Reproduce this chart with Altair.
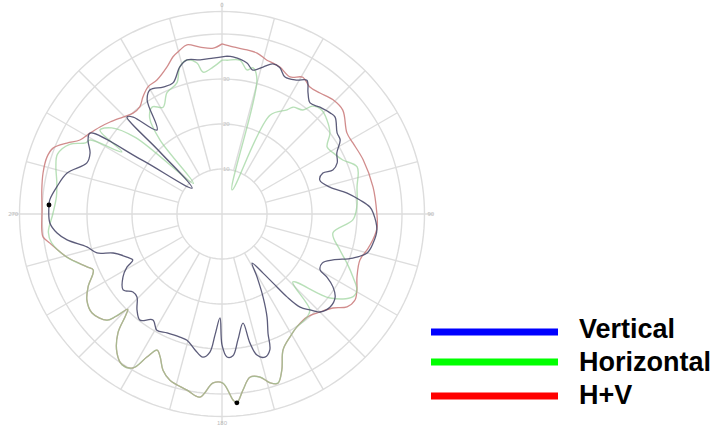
import altair as alt
import pandas as pd

# Radiation pattern traces: angle in degrees clockwise from the top,
# radius in grid units (outer ring = 45).
SERIES = ["Vertical", "Horizontal", "H+V"]
LEGEND_COLORS = ["#0000ff", "#00ff00", "#ff0000"]
TRACE_COLORS = ["#4a4a6c", "#92d092", "#cc8080"]

VERT_ANGLE = [1.8, 4, 9.4, 12.1, 15.6, 18.7, 21.5, 24.7, 29.2, 32.4, 35.4, 38.4, 42.5, 46.9, 49.4,
              54.8, 57.9, 62, 66.1, 68.4, 67.9, 70.9, 76, 80.5, 84.2, 87.3, 89.6, 95.9, 100.9, 105,
              108.6, 112.5, 116.1, 119.7, 121, 123.3, 126.3, 130.7, 135, 137.5, 140, 141.9, 143.5, 145.2, 148.5,
              150.9, 153.7, 156.4, 158.9, 160.6, 163.3, 166.1, 167.8, 169.1, 172.8, 175.6, 178, 180, 181.1, 183.3,
              185, 187.6, 191.2, 195.5, 198.9, 204.8, 209.3, 213.1, 217.7, 221.5, 225.7, 228.8, 232.5, 237.5, 240.8,
              242.7, 245.6, 250.3, 252.7, 256.3, 260.5, 263.4, 267, 273, 274.7, 279.3, 284.8, 290.7, 294.8, 298.9,
              301.5, 304, 311, 315, 315.6, 317.5, 322.3, 326.7, 329.9, 335.1, 339.5, 344, 347.2, 351.9, 356.7]
VERT_R = [35.1, 35.0, 34.0, 32.7, 33.9, 35.2, 35.0, 33.5, 34.1, 35.2, 33.0, 31.5, 32.2, 32.9, 33.1,
          31.3, 31.0, 28.9, 28.0, 26.5, 24.2, 23.0, 24.7, 28.2, 30.8, 32.9, 33.6, 34.6, 34.2, 33.4,
          30.7, 26.7, 24.8, 25.1, 27.2, 29.5, 31.2, 31.7, 30.8, 28.9, 27.0, 23.4, 19.1, 16.0, 12.8,
          16.0, 20.6, 25.0, 28.4, 32.0, 33.2, 32.3, 29.3, 24.7, 28.2, 31.6, 31.8, 29.1, 23.1, 26.9,
          30.8, 32.1, 30.8, 29.1, 28.9, 29.1, 29.6, 28.1, 29.8, 28.5, 26.4, 26.3, 27.7, 26.1, 24.2,
          22.3, 23.2, 25.7, 29.1, 30.9, 34.9, 36.9, 38.3, 38.5, 38.4, 37.2, 35.6, 32.1, 32.3, 34.0,
          34.4, 21.4, 8.8, 19.5, 30.2, 29.2, 23.6, 30.3, 31.9, 31.1, 31.1, 34.0, 35.1, 34.6, 34.7]

HORZ_ANGLE = [0, 1.9, 6.7, 9.8, 12, 14.6, 22.6, 25.9, 32, 33.6, 37.9, 40, 44, 48.2, 53.1,
              57.5, 61.2, 65.9, 70.8, 78.7, 87, 92.6, 99.7, 107, 111.4, 115.7, 119.4, 122.4, 127.9, 133.8,
              137.5, 140.5, 146.4, 151, 155.8, 159, 161.7, 164.1, 166.9, 170.3, 173.2, 175.5, 176.6, 179.7, 183,
              186.9, 191.2, 197.4, 200.7, 203.4, 205.5, 207.7, 210, 213.5, 217.1, 221.2, 223.5, 224.7, 226, 227.3,
              232.7, 237.5, 241.4, 246.5, 248.6, 254.5, 260.4, 264, 270, 276, 281, 286, 290, 294.6, 297.5,
              299.3, 301.8, 304.5, 308, 311.5, 317, 320, 323, 327, 331.1, 335.6, 341, 344, 347.2, 350.6,
              352.4, 356.5]
HORZ_R = [34.2, 34.2, 34.4, 32.5, 33.2, 30.8, 5.8, 24.4, 27.3, 28.5, 29.3, 31.3, 32.0, 31.3, 30.0,
          27.7, 28.2, 29.4, 31.8, 30.6, 30.0, 29.1, 25.0, 27.4, 29.8, 32.3, 34.4, 34.4, 30.4, 21.8,
          28.9, 29.7, 30.1, 31.2, 33.1, 37.1, 39.6, 39.0, 37.2, 36.8, 39.4, 42.1, 41.4, 37.6, 37.6,
          41.0, 39.9, 38.7, 37.1, 34.6, 33.5, 35.9, 39.5, 40.2, 38.7, 35.1, 31.1, 29.8, 32.7, 34.8,
          36.3, 35.6, 33.9, 31.2, 32.2, 35.8, 38.4, 38.8, 37.6, 37.0, 37.4, 38.4, 38.9, 37.2, 34.2,
          33.6, 26.2, 32.9, 31.1, 25.6, 9.3, 21.4, 26.7, 28.4, 27.1, 29.6, 30.8, 34.0, 35.1, 34.0,
          31.8, 32.7]

HV_ANGLE = [0, 3.8, 8.7, 12.3, 16.3, 18.7, 21.5, 26.4, 30.6, 34.7, 39, 44.2, 49.3, 57, 61.5,
            69, 79.9, 89.6, 94.8, 99.8, 103.9, 108.4, 115, 119.4, 122.9, 126.6, 130.3, 135, 140.5, 146.4,
            151, 155.8, 159, 161.7, 164.1, 166.9, 170.3, 173.2, 175.5, 176.6, 179.7, 183, 186.9, 191.2, 197.4,
            200.7, 203.4, 205.5, 207.7, 210, 213.5, 217.1, 221.2, 223.5, 224.7, 226, 227.3, 232.7, 237.5, 241.4,
            246.5, 248.6, 254.5, 260.4, 262.7, 264.9, 271.3, 277.6, 282.9, 288, 291.3, 294.6, 297.5, 301.5, 305.5,
            309.4, 314.4, 318.6, 322.5, 326, 329.8, 334.1, 339.5, 342.7, 345.6, 348.3, 352.5, 357]
HV_R = [37.8, 37.2, 36.9, 36.6, 35.6, 35.4, 35.1, 34.0, 35.3, 34.3, 34.6, 35.4, 35.4, 33.1, 33.1,
        33.6, 34.1, 34.4, 34.6, 34.0, 33.2, 32.3, 33.1, 34.4, 35.2, 34.6, 32.3, 30.8, 29.7, 30.1,
        31.2, 33.1, 37.1, 39.6, 39.0, 37.2, 36.8, 39.4, 42.1, 41.4, 37.6, 37.6, 41.0, 39.9, 38.7,
        37.1, 34.6, 33.5, 35.9, 39.5, 40.2, 38.7, 35.1, 31.1, 29.8, 32.7, 34.8, 36.3, 35.6, 33.9,
        31.2, 32.2, 35.8, 38.8, 40.1, 40.2, 40.0, 40.4, 40.8, 40.9, 40.3, 37.9, 35.6, 34.4, 33.3,
        32.2, 30.8, 29.9, 30.0, 31.4, 32.7, 33.1, 34.9, 36.6, 37.6, 38.4, 37.4, 36.9]

RINGS = [10, 20, 30, 40, 45]
RING_LABELS = [10, 20, 30]
SPOKE_STEP = 15
ANGLE_LABELS = ["0", "90", "180", "270"]

# ---- layout ----
W, H = 719, 425
PX_PER_UNIT = 4.5
CX, CY = 222, 214
GRID = "#dddddd"
POLAR_X = "datum.r * sin(datum.a * PI / 180)"
POLAR_Y = "datum.r * cos(datum.a * PI / 180)"

xs = alt.Scale(domain=[-CX / PX_PER_UNIT, (W - CX) / PX_PER_UNIT], range=[0, W], nice=False, zero=False)
ys = alt.Scale(domain=[-(H - CY) / PX_PER_UNIT, CY / PX_PER_UNIT], range=[H, 0], nice=False, zero=False)
X = alt.X("x:Q", scale=xs, axis=None)
Y = alt.Y("y:Q", scale=ys, axis=None)

# grid rings
ring_rows = [{"ring": r, "k": i, "a": a, "r": r}
             for r in RINGS for i, a in enumerate(range(0, 361, 2))]
rings = alt.Chart(pd.DataFrame(ring_rows)).mark_line(
    stroke=GRID, strokeWidth=1.4
).transform_calculate(x=POLAR_X, y=POLAR_Y).encode(
    x=X, y=Y, detail="ring:N", order="k:Q"
)

# radial spokes; the four main axes run through the centre
spoke_rows = []
for a in range(0, 360, SPOKE_STEP):
    main = a % 90 == 0
    spoke_rows.append({"a": a, "r0": 0 if main else RINGS[0], "r1": 47 if main else RINGS[-1]})
spokes = alt.Chart(pd.DataFrame(spoke_rows)).mark_rule(
    stroke=GRID, strokeWidth=1.4
).transform_calculate(
    x="datum.r0 * sin(datum.a * PI / 180)", y="datum.r0 * cos(datum.a * PI / 180)",
    x1="datum.r1 * sin(datum.a * PI / 180)", y1="datum.r1 * cos(datum.a * PI / 180)",
).encode(x=X, y=Y, x2="x1:Q", y2="y1:Q")

angle_lab = alt.Chart(pd.DataFrame({
    "a": [int(t) for t in ANGLE_LABELS], "r": [46.4] * 4, "t": ANGLE_LABELS
})).mark_text(fontSize=6, color="#bcbcbc", align="center", baseline="middle").transform_calculate(
    x=POLAR_X, y=POLAR_Y
).encode(x=X, y=Y, text="t:N")

ring_lab = alt.Chart(pd.DataFrame({
    "a": [0] * len(RING_LABELS), "r": RING_LABELS, "t": [str(v) for v in RING_LABELS]
})).mark_text(fontSize=6, color="#c4c4c4", align="left", baseline="middle", dx=1).transform_calculate(
    x=POLAR_X, y=POLAR_Y
).encode(x=X, y=Y, text="t:N")

# pattern traces (closed loops)
def trace_frame(name, angles, radii):
    assert len(angles) == len(radii)
    df = pd.DataFrame({"series": name, "a": angles, "r": radii})
    df = pd.concat([df, df.iloc[[0]]], ignore_index=True)
    df["idx"] = range(len(df))
    return df

frames = {
    "Vertical": trace_frame("Vertical", VERT_ANGLE, VERT_R),
    "Horizontal": trace_frame("Horizontal", HORZ_ANGLE, HORZ_R),
    "H+V": trace_frame("H+V", HV_ANGLE, HV_R),
}
line_style = {
    "H+V": dict(opacity=0.9, strokeWidth=1.3),
    "Horizontal": dict(opacity=0.65, strokeWidth=1.4),
    "Vertical": dict(opacity=0.9, strokeWidth=1.3),
}
trace_layers = []
for name in ["H+V", "Horizontal", "Vertical"]:
    color = TRACE_COLORS[SERIES.index(name)]
    trace_layers.append(
        alt.Chart(frames[name]).mark_line(color=color, interpolate="catmull-rom", **line_style[name])
        .transform_calculate(x=POLAR_X, y=POLAR_Y)
        .encode(x=X, y=Y, order="idx:Q")
    )

# markers at the pattern maxima
peaks = pd.concat([frames[n].loc[[frames[n]["r"].idxmax()]] for n in ["Vertical", "H+V"]])
peak_dots = alt.Chart(peaks).mark_circle(size=24, color="black", opacity=1).transform_calculate(
    x=POLAR_X, y=POLAR_Y
).encode(x=X, y=Y)

# legend
LEG_LINE_Y = [332, 362, 396]
LEG_TEXT_Y = [338, 371, 404]
legend_layers = []
for name, col, ly, ty in zip(SERIES, LEGEND_COLORS, LEG_LINE_Y, LEG_TEXT_Y):
    d = pd.DataFrame({"label": [name]})
    legend_layers.append(
        alt.Chart(d).mark_rule(color=col, strokeWidth=7).encode(
            x=alt.value(431), x2=alt.value(558), y=alt.value(ly))
    )
    legend_layers.append(
        alt.Chart(d).mark_text(
            align="left", baseline="alphabetic", fontSize=27, fontWeight="bold",
            font="Liberation Sans, Arial, sans-serif", color="black"
        ).encode(x=alt.value(579), y=alt.value(ty), text="label:N")
    )

chart = alt.layer(
    rings, spokes, angle_lab, ring_lab, *trace_layers, peak_dots, *legend_layers
).properties(
    width=W, height=H, padding=0, background="white"
).configure_view(stroke=None)

chart.save("out.html", embed_options={"renderer": "svg", "actions": False})
